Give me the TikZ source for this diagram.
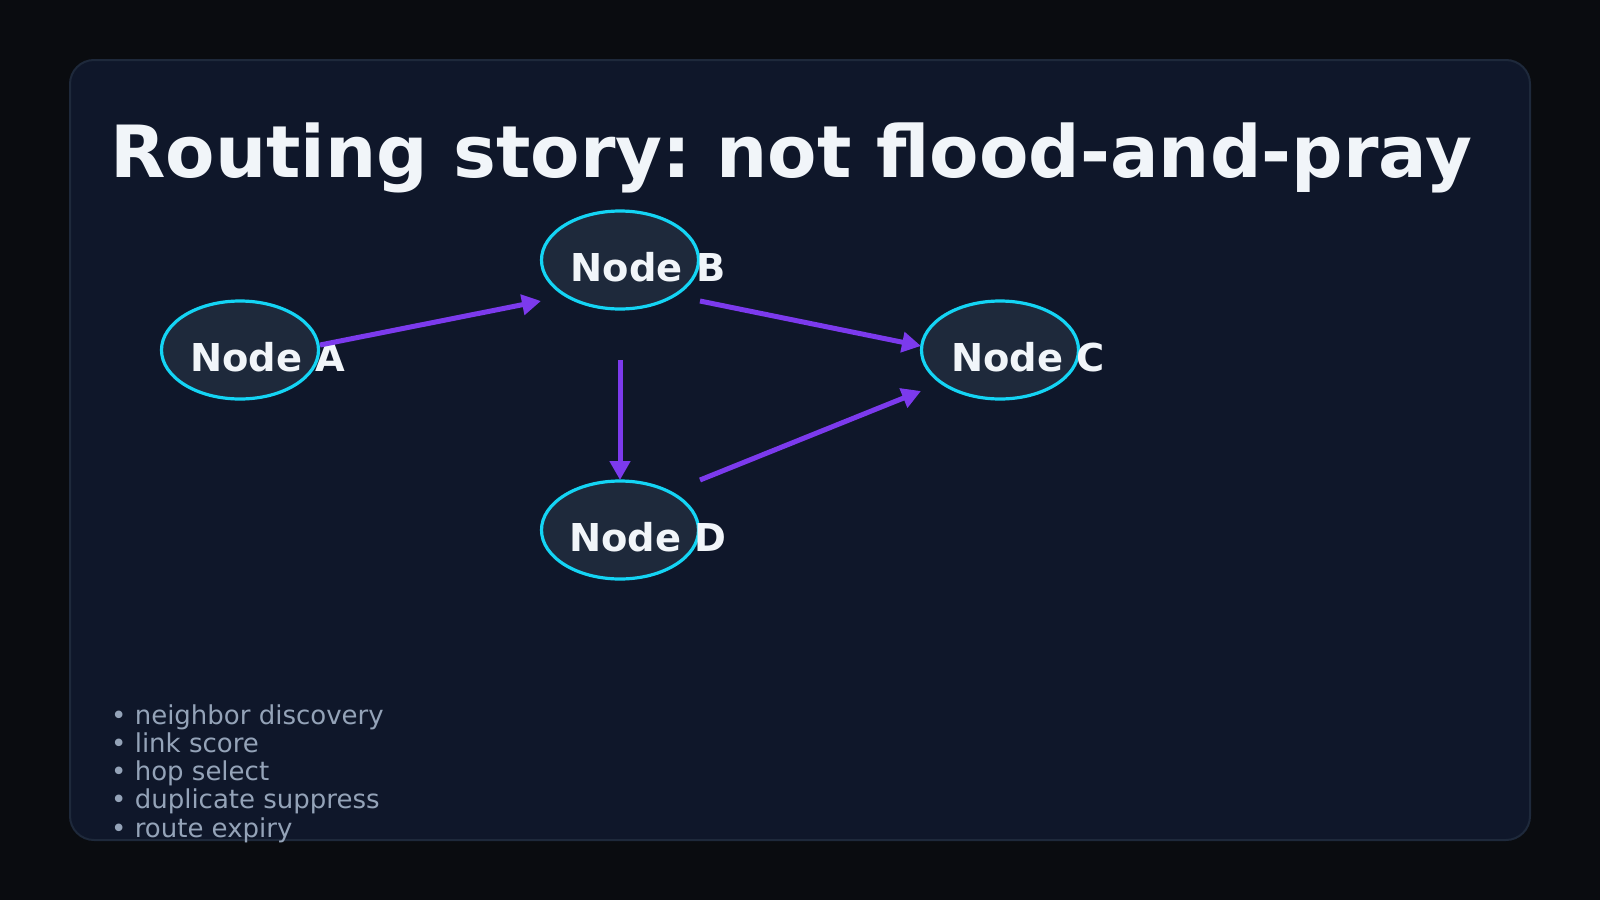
\documentclass[tikz,border=0pt]{standalone}
\usepackage{fontspec}
\setmainfont{DejaVu Sans}
\frenchspacing
\usetikzlibrary{positioning, arrows.meta, shapes.geometric, calc}
\definecolor{pagebg}{HTML}{0A0C10}
\definecolor{cardbg}{HTML}{0F172A}
\definecolor{cardline}{HTML}{1E293B}
\definecolor{hubfill}{HTML}{1E293B}
\definecolor{hubline}{HTML}{14D4F4}
\definecolor{linkcol}{HTML}{7C3AED}
\definecolor{ink}{HTML}{F1F5F9}
\definecolor{muted}{HTML}{94A3B8}
\tikzset{
  >={Triangle[length=19pt, width=20pt]},
  card/.style={draw=cardline, line width=2pt, fill=cardbg, rounded corners=24pt},
  hub/.style={draw=hubline, line width=3.2pt, fill=hubfill, ellipse, minimum width=157pt, minimum height=98pt, inner sep=0pt},
  hublbl/.style={anchor=base, inner sep=0pt, text=ink, font=\fontsize{38.4}{44}\selectfont\bfseries},
  link/.style={->, draw=linkcol, line width=5pt},
}

\begin{document}
\begin{tikzpicture}[x=1pt, y=-1pt]
      \useasboundingbox[fill=pagebg] (0,0) rectangle (1600,900);
      \draw[card] (70,60) rectangle (1530,840);

      \node[anchor=base west, inner sep=0pt, text=ink, font=\fontsize{72}{80}\selectfont\bfseries] (title) at (110,177) {Routing story: not flood-and-pray};

      \node[hub] (a) at (240,350) {};
      \node[hub] (b) at (620,260) {};
      \node[hub] (c) at (1000,350) {};
      \node[hub] (d) at (620,530) {};
      \node[hublbl] (a-lbl) at ($(a)+(28,21)$) {Node A};
      \node[hublbl] (b-lbl) at ($(b)+(28,21)$) {Node B};
      \node[hublbl] (c-lbl) at ($(c)+(28,21)$) {Node C};
      \node[hublbl] (d-lbl) at ($(d)+(28,21)$) {Node D};

      \draw[link] ($(a)+(80,-5)$) -- ($(b)+(-79,41)$);
      \draw[link] ($(b)+(80,41)$) -- ($(c)+(-79,-4)$);
      \draw[link] ($(b)+(0,100)$) -- ($(d)+(0,-50)$);
      \draw[link] ($(d)+(80,-50)$) -- ($(c)+(-79,41)$);

      \node[anchor=base west, inner sep=0pt, align=left, text=muted, font=\fontsize{26}{28.1}\selectfont] (steps) at (111,837) {• neighbor discovery\\• link score\\• hop select\\• duplicate suppress\\• route expiry};
    \end{tikzpicture}
\end{document}
